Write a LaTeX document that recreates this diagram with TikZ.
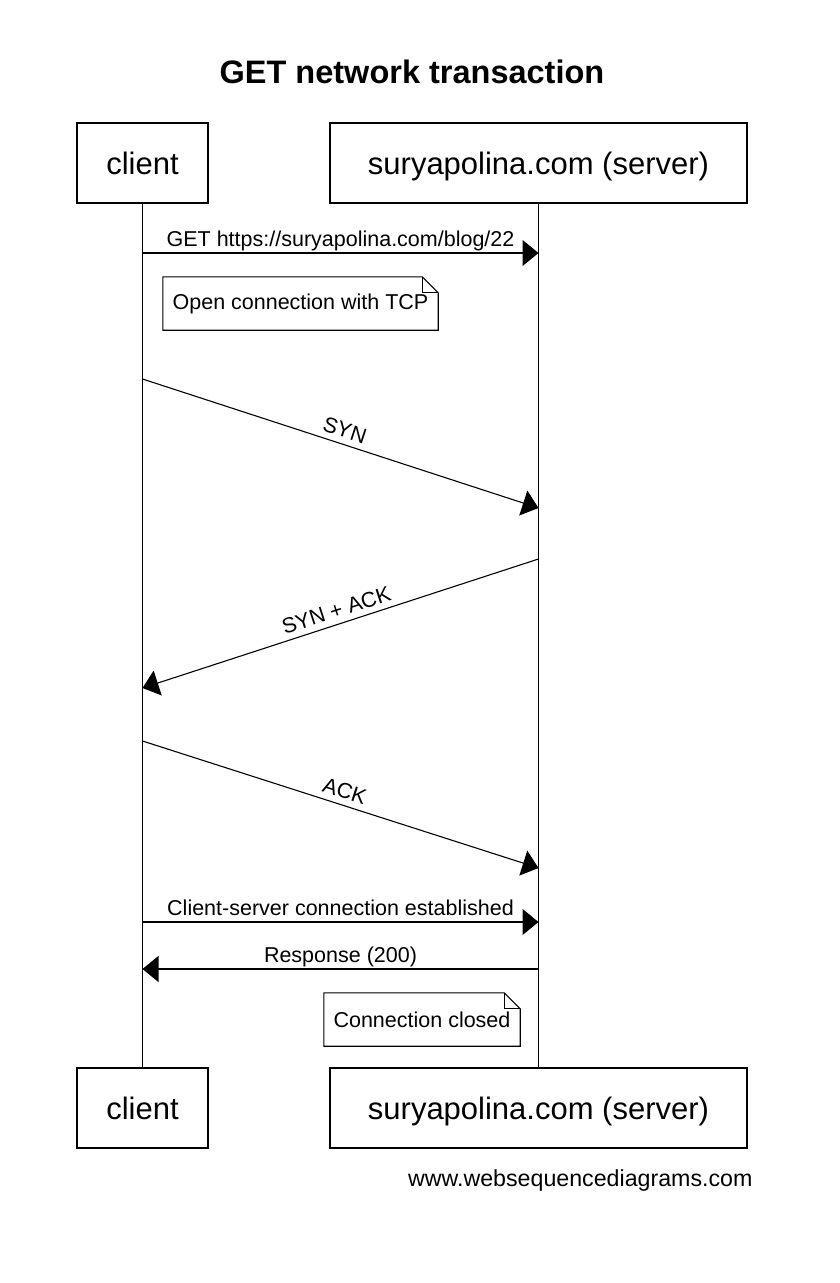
\documentclass[tikz,border=0pt]{standalone}
\usepackage{fontspec}
\setmainfont{Liberation Sans}
\usetikzlibrary{arrows.meta, positioning, calc}

\begin{document}
\begin{tikzpicture}[
    x=1pt, y=-1pt,
    actor/.style={draw, line width=1.2pt, minimum width=#1, minimum height=80pt, inner sep=0pt, text height=23pt, text depth=0pt, font=\fontsize{31}{36}\selectfont},
    msg/.style={-{Triangle[length=16pt, width=26pt]}, line width=1.1pt},
    msglabel/.style={font=\fontsize{21.5}{24}\selectfont, text height=15.5pt, text depth=4.5pt, inner sep=1.5pt},
    note/.style={minimum height=53pt, inner sep=0pt, font=\fontsize{21.5}{24}\selectfont},
    noteline/.style={line width=1.1pt, line join=miter}
]
\useasboundingbox (0,0) rectangle (840,1283);

% Title
\node[font=\bfseries\fontsize{32.5}{38}\selectfont] (title) at (412,72) {GET network transaction};

% Participants, top and bottom
\node[actor=131pt] (clientTop) at (142.5,163) {client};
\node[actor=417pt] (serverTop) at (538.5,163) {suryapolina.com (server)};
\node[actor=131pt] (clientBot) at (142.5,1108) {client};
\node[actor=417pt] (serverBot) at (538.5,1108) {suryapolina.com (server)};

% Lifelines
\draw[line width=1.1pt] (clientTop) -- (clientBot);
\draw[line width=1.1pt] (serverTop) -- (serverBot);

% Message ends on the lifelines
\coordinate (getC) at (clientTop |- 0,253);
\coordinate (getS) at (serverTop |- 0,253);
\coordinate (synC) at (clientTop |- 0,379);
\coordinate (synS) at (serverTop |- 0,508);
\coordinate (synackS) at (serverTop |- 0,559);
\coordinate (synackC) at (clientTop |- 0,688);
\coordinate (ackC) at (clientTop |- 0,741);
\coordinate (ackS) at (serverTop |- 0,868);
\coordinate (estC) at (clientTop |- 0,922);
\coordinate (estS) at (serverTop |- 0,922);
\coordinate (respS) at (serverTop |- 0,969);
\coordinate (respC) at (clientTop |- 0,969);

% GET request
\draw[msg] (getC) -- (getS) node[msglabel, midway, above] {GET https://suryapolina.com/blog/22};

% Note: open connection
\node[note, minimum width=275pt] (noteOpen) at (300.5,303.5) {Open connection with TCP};
\draw[noteline, fill=white] (noteOpen.south west) -- (noteOpen.north west) -- ([xshift=-16pt]noteOpen.north east)
    -- ([yshift=-16pt]noteOpen.north east) -- (noteOpen.south east) -- cycle;
\draw[noteline] ([xshift=-16pt]noteOpen.north east) -- ([xshift=-16pt, yshift=-16pt]noteOpen.north east) -- ([yshift=-16pt]noteOpen.north east);
\node[note, minimum width=275pt] at (noteOpen) {Open connection with TCP};

% Handshake
\draw[msg] (synC) -- (synS) node[msglabel, midway, above, sloped] {SYN};
\draw[msg] (synackS) -- (synackC) node[msglabel, midway, above, sloped] {SYN + ACK};
\draw[msg] (ackC) -- (ackS) node[msglabel, midway, above, sloped] {ACK};

% Established and response
\draw[msg] (estC) -- (estS) node[msglabel, midway, above] {Client-server connection established};
\draw[msg] (respS) -- (respC) node[msglabel, midway, above] {Response (200)};

% Note: connection closed
\node[note, minimum width=196pt] (noteClosed) at (422,1019.5) {Connection closed};
\draw[noteline, fill=white] (noteClosed.south west) -- (noteClosed.north west) -- ([xshift=-16pt]noteClosed.north east)
    -- ([yshift=-16pt]noteClosed.north east) -- (noteClosed.south east) -- cycle;
\draw[noteline] ([xshift=-16pt]noteClosed.north east) -- ([xshift=-16pt, yshift=-16pt]noteClosed.north east) -- ([yshift=-16pt]noteClosed.north east);
\node[note, minimum width=196pt] at (noteClosed) {Connection closed};

% Watermark
\node[font=\fontsize{23.2}{27}\selectfont, anchor=east] (mark) at (756,1180) {www.websequencediagrams.com};

\end{tikzpicture}
\end{document}
